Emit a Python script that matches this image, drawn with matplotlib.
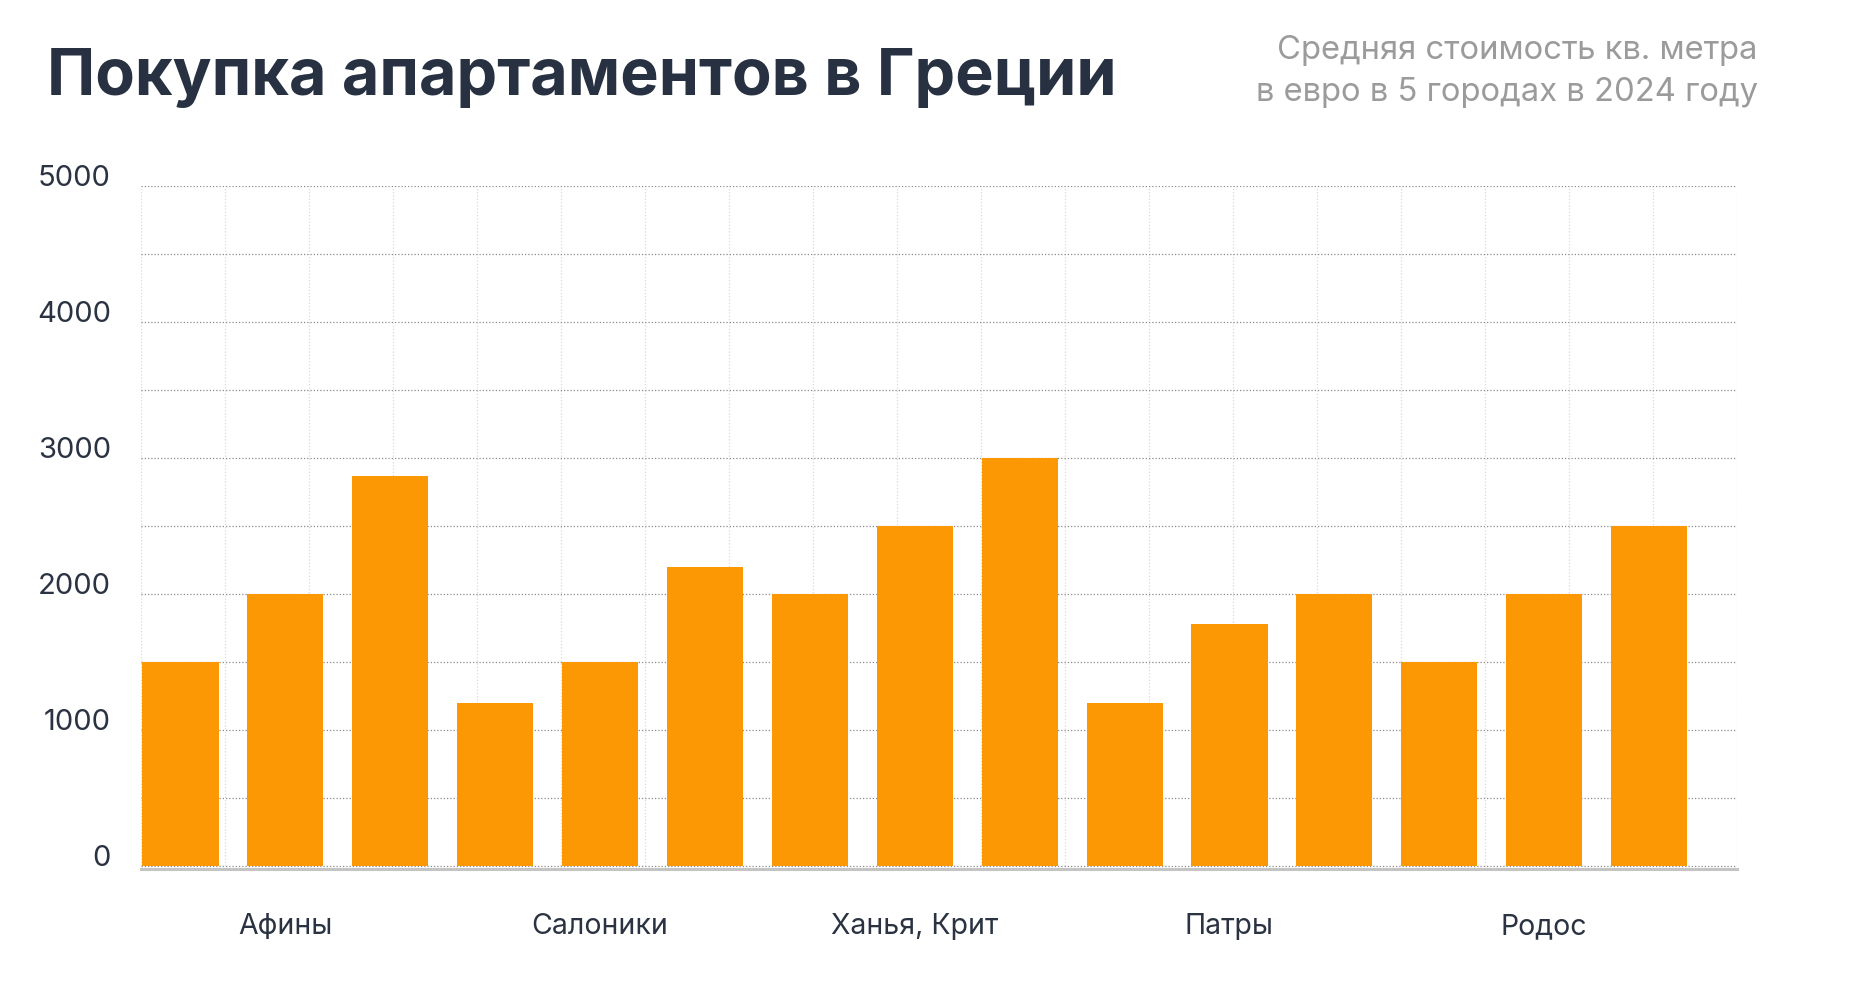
import numpy as np
import matplotlib
matplotlib.use("Agg")
import matplotlib.pyplot as plt

plt.rcParams['font.family'] = ['Inter', 'DejaVu Sans']

#%% Данные
cities = ['Афины', 'Салоники', 'Ханья, Крит', 'Патры', 'Родос']
# три столбца на каждый город
athens = [1500, 2000, 2870]
thessaloniki = [1200, 1500, 2200]
chania = [2000, 2500, 3000]
patras = [1200, 1780, 2000]
rhodes = [1500, 2000, 2500]
y_ticks = [0, 1000, 2000, 3000, 4000, 5000]

values = athens + thessaloniki + chania + patras + rhodes
positions = np.arange(len(values))
group_centers = [positions[3 * i:3 * i + 3].mean() for i in range(len(cities))]

#%% Рисунок
fig = plt.figure(figsize=(18.69, 9.82), dpi=100)
ax = fig.add_axes([0.0754, 0.1146, 0.8539, 0.6960])

ax.bar(positions, values, width=0.725, color='#FC9803', zorder=3)

ax.set_xlim(-0.3775, 14.837)
ax.set_ylim(-22, 5000)

# сетка
ax.set_yticks(np.arange(500, 5001, 500), minor=True)
ax.set_yticks(y_ticks)
ax.set_xticks(np.linspace(-0.3775, 14.837, 20), minor=True)
ax.set_xticks(group_centers)
ax.set_xticklabels(cities)

ax.grid(which='both', axis='y', color='#8c8c8c', linestyle=(0, (1, 1.6)), linewidth=0.9, zorder=0)
ax.grid(which='minor', axis='x', color='#d9d9d9', linestyle=(0, (1, 1.6)), linewidth=0.9, zorder=0)
ax.grid(which='major', axis='x', visible=False)

for side in ['top', 'right', 'left']:
    ax.spines[side].set_visible(False)
ax.spines['bottom'].set_color('#c4c4c4')
ax.spines['bottom'].set_linewidth(2.2)
ax.spines['bottom'].set_zorder(4)

ax.tick_params(which='both', length=0)
ax.tick_params(axis='y', pad=21.6, labelsize=21, labelcolor='#2b3342')
ax.tick_params(axis='x', pad=46.4, labelsize=20.5, labelcolor='#2b3342')
for lbl in ax.get_yticklabels():
    lbl.set_va('baseline')
for lbl in ax.get_xticklabels():
    lbl.set_va('baseline')

#%% Заголовки
fig.text(0.0249, 0.9033, 'Покупка апартаментов в Греции', fontsize=46.6,
         fontweight='bold', color='#273142', va='baseline', ha='left')
fig.text(0.9406, 0.9399, 'Средняя стоимость кв. метра', fontsize=23.6,
         color='#9b9b9b', va='baseline', ha='right')
fig.text(0.9406, 0.8975, 'в евро в 5 городах в 2024 году', fontsize=23.6,
         color='#9b9b9b', va='baseline', ha='right')

fig.savefig('out.png', dpi=100, facecolor='white')
